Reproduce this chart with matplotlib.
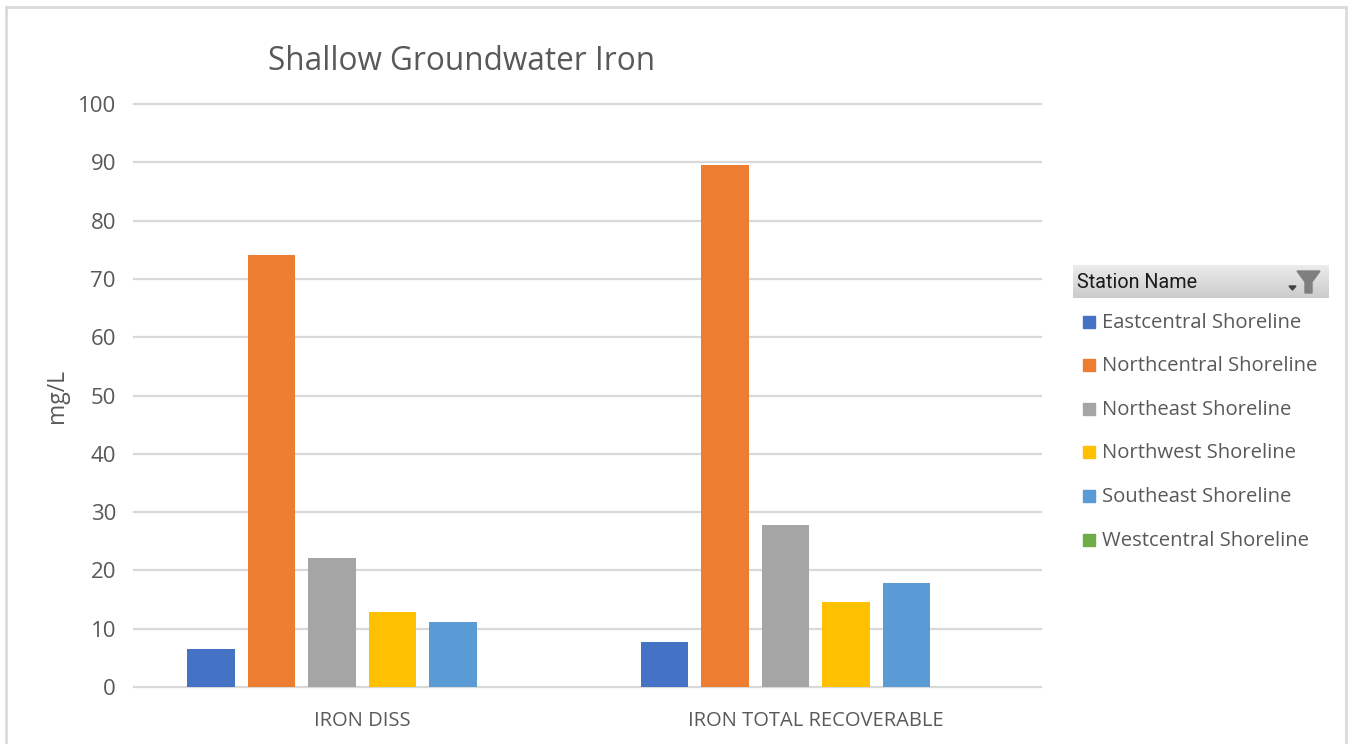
import matplotlib
matplotlib.use('Agg')
import matplotlib.pyplot as plt
import numpy as np
from matplotlib.patches import Polygon, Rectangle

W, H = 1350, 744

# Values (mg/L)
categories = ['IRON DISS', 'IRON TOTAL RECOVERABLE']
stations = ['Eastcentral Shoreline', 'Northcentral Shoreline', 'Northeast Shoreline',
            'Northwest Shoreline', 'Southeast Shoreline', 'Westcentral Shoreline']
eastcentral = [6.5, 7.7]
northcentral = [74.1, 89.5]
northeast = [22.2, 27.8]
northwest = [12.8, 14.5]
southeast = [11.1, 17.9]
westcentral = [0, 0]
series = [eastcentral, northcentral, northeast, northwest, southeast, westcentral]
colors = ['#4472C4', '#ED7D31', '#A5A5A5', '#FFC000', '#5B9BD5', '#70AD47']
yticks = list(range(0, 101, 10))

plt.rcParams['font.family'] = ['Open Sans', 'DejaVu Sans']
text_gray = '#595959'


def fx(px):
    return px / W


def fy(py):
    return 1 - py / H


fig = plt.figure(figsize=(13.5, 7.44), dpi=100, facecolor='white')
ax = fig.add_axes([fx(134), fy(687), (1041 - 134) / W, (687 - 104) / H])

# Bars
x = np.arange(len(categories))
pitch = 60.5 / 453.5
width = 47.5 / 453.5
for i, (vals, col, name) in enumerate(zip(series, colors, stations)):
    ax.bar(x + (i - 2.5) * pitch + 0.003, vals, width, color=col, label=name, zorder=3)

ax.set_xlim(-0.5, 1.5)
ax.set_ylim(0, 100)
ax.set_yticks(yticks)
ax.set_xticks(x + 0.003)
ax.set_xticklabels(categories, fontsize=14.5, color=text_gray)
ax.tick_params(axis='both', length=0)
ax.tick_params(axis='x', pad=17)
ax.tick_params(axis='y', labelsize=16, labelcolor=text_gray, pad=13)
ax.grid(axis='y', color='#D9D9D9', linewidth=1.6, zorder=0)
ax.set_axisbelow(True)
for s in ax.spines.values():
    s.set_visible(False)
for line in ax.get_ygridlines():
    line.set_clip_on(False)

fig.text(fx(462), fy(61), 'Shallow Groundwater Iron', fontsize=22.7, color=text_gray,
         ha='center', va='center')
fig.text(fx(57), fy(396), 'mg/L', fontsize=16.5, color=text_gray, rotation=90,
         ha='center', va='center')

# Outer frame of the screenshot
frame = '#DADADA'
fig.add_artist(plt.Line2D([fx(6), fx(6)], [0, fy(7)], color=frame, lw=2))
fig.add_artist(plt.Line2D([fx(6), fx(1346)], [fy(7), fy(7)], color=frame, lw=2))
fig.add_artist(plt.Line2D([fx(1346), fx(1346)], [fy(7), 0], color=frame, lw=2))

# Legend header with gradient and filter icon
hdr = fig.add_axes([fx(1073), fy(298), (1329 - 1073) / W, (298 - 265) / H])
hdr.imshow(np.linspace(0.92, 0.80, 32).reshape(-1, 1), cmap='gray', vmin=0, vmax=1,
           aspect='auto')
hdr.axis('off')
fig.text(fx(1077), fy(282), 'Station Name', fontsize=14.2, color='#1a1a1a', ha='left',
         va='center', family=['Roboto', 'DejaVu Sans'])
funnel = [(1297, 271), (1320, 271), (1312, 282), (1312, 293), (1305, 293), (1305, 282)]
fig.add_artist(Polygon([(fx(a), fy(b)) for a, b in funnel], closed=True, color='#7F7F7F',
                       transform=fig.transFigure))
arrow = [(1289, 286), (1296, 286), (1292.5, 290)]
fig.add_artist(Polygon([(fx(a), fy(b)) for a, b in arrow], closed=True, color='#404040',
                       transform=fig.transFigure))

# Legend entries
for i, (name, col) in enumerate(zip(stations, colors)):
    yc = 321.5 + i * 43.6
    fig.add_artist(Rectangle((fx(1083), fy(yc + 6)), 12 / W, 12 / H, color=col,
                             transform=fig.transFigure))
    fig.text(fx(1102), fy(yc + 1), name, fontsize=14.6, color=text_gray, ha='left', va='center')

fig.savefig('out.png', dpi=100, facecolor='white')
